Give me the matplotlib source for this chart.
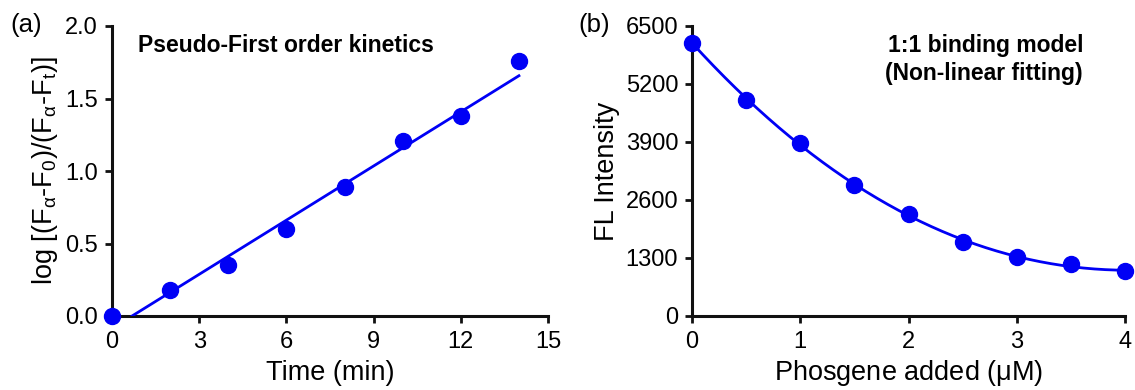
import numpy as np
import matplotlib
matplotlib.use("Agg")
import matplotlib.pyplot as plt

plt.rcParams['font.family'] = ['Liberation Sans', 'DejaVu Sans']
plt.rcParams['mathtext.fontset'] = 'custom'
plt.rcParams['mathtext.rm'] = 'Liberation Sans'
plt.rcParams['mathtext.it'] = 'Liberation Sans'

# Panel (a) data
time_min = [0, 2, 4, 6, 8, 10, 12, 14]
log_ratio = [0.0, 0.18, 0.35, 0.60, 0.89, 1.21, 1.38, 1.76]
fit_slope = 0.1245
fit_intercept = -0.086
fit_x_range = [0.69, 14]

# Panel (b) data
phosgene_uM = [0, 0.5, 1.0, 1.5, 2.0, 2.5, 3.0, 3.5, 4.0]
fl_intensity = [6125, 4850, 3885, 2930, 2280, 1655, 1330, 1165, 1000]

BLUE = '#0000F5'
W, H = 1135, 390

fig = plt.figure(figsize=(W/100, H/100), dpi=100)
ax1 = fig.add_axes([112/W, 1-316/H, (548-112)/W, (316-26)/H])
ax2 = fig.add_axes([692/W, 1-316/H, (1125-692)/W, (316-26)/H])

def style(ax):
    for s in ['top', 'right']:
        ax.spines[s].set_visible(False)
    for s in ['left', 'bottom']:
        ax.spines[s].set_linewidth(2.2)
        ax.spines[s].set_color('#111111')
        ax.spines[s].set_capstyle('projecting')
    ax.tick_params(axis='x', direction='out', length=5, width=2.0, labelsize=17, pad=6, color='#111111')
    ax.tick_params(axis='y', direction='out', length=5, width=2.0, labelsize=17, pad=5, color='#111111')

# (a)
xf = np.linspace(fit_x_range[0], fit_x_range[1], 50)
ax1.plot(xf, fit_slope * xf + fit_intercept, color=BLUE, lw=2.0, zorder=3)
ax1.plot(time_min, log_ratio, 'o', color=BLUE, ms=11.5, zorder=4, clip_on=False)
ax1.set_xlim(0, 15)
ax1.set_ylim(0, 2.0)
ax1.set_xticks([0, 3, 6, 9, 12, 15])
ax1.set_yticks([0.0, 0.5, 1.0, 1.5, 2.0])
ax1.set_yticklabels(['0.0', '0.5', '1.0', '1.5', '2.0'])
style(ax1)
ax1.set_xlabel('Time (min)', fontsize=19.5, labelpad=4.5)
ax1.set_ylabel(r'log [(F$_{\alpha}$-F$_{0}$)/(F$_{\alpha}$-F$_{t}$)]', fontsize=19.5, labelpad=4)
fig.text(138/W, 1-52/H, 'Pseudo-First order kinetics',
         fontsize=16.5, fontweight='bold', va='baseline', ha='left')
fig.text(10/W, 1-32/H, '(a)', fontsize=18.5, va='baseline', ha='left')

# (b)
coef = np.polyfit(phosgene_uM, fl_intensity, 3)
xb = np.linspace(0, 4, 200)
ax2.plot(xb, np.polyval(coef, xb), color=BLUE, lw=2.0, zorder=3)
ax2.plot(phosgene_uM, fl_intensity, 'o', color=BLUE, ms=11.5, zorder=4, clip_on=False)
ax2.set_xlim(0, 4)
ax2.set_ylim(0, 6500)
ax2.set_xticks([0, 1, 2, 3, 4])
ax2.set_yticks([0, 1300, 2600, 3900, 5200, 6500])
style(ax2)
ax2.set_xlabel(r'Phosgene added ($\mu$M)', fontsize=19.5, labelpad=3.5)
ax2.set_ylabel('FL Intensity', fontsize=19.5, labelpad=4)
fig.text(1083/W, 1-52/H, '1:1 binding model',
         fontsize=16.5, fontweight='bold', va='baseline', ha='right')
fig.text(1083/W, 1-80/H, '(Non-linear fitting)',
         fontsize=16.5, fontweight='bold', va='baseline', ha='right')
fig.text(578/W, 1-32/H, '(b)', fontsize=18.5, va='baseline', ha='left')

fig.savefig('out.png', dpi=100)
